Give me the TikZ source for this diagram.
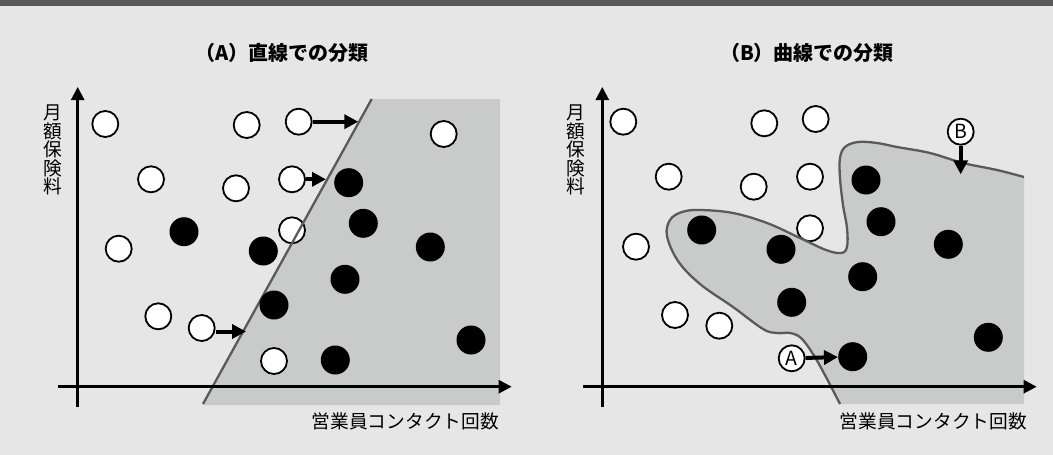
\documentclass[tikz,border=0pt]{standalone}
\usepackage{fontspec}
\newfontfamily\jp{Noto Sans CJK JP}
\usetikzlibrary{arrows.meta}
\definecolor{bggray}{HTML}{E6E6E6}
\definecolor{areagray}{HTML}{C9CACA}
\definecolor{bline}{HTML}{5A5A5A}
\begin{document}
\begin{tikzpicture}[x=1pt,y=-1pt,
  wc/.style={circle,draw=black,fill=white,line width=1.8pt,minimum size=26pt,inner sep=0pt},
  bc/.style={circle,fill=black,minimum size=29pt,inner sep=0pt},
  axis/.style={line width=2.6pt,-{Triangle[length=13pt,width=13pt]}},
  push/.style={line width=4pt,-{Triangle[length=14pt,width=14pt]}},
  bound/.style={draw=bline,line width=2.3pt},
  lab/.style={font=\jp\fontsize{18.7}{18.5}\selectfont,inner sep=0pt},
  ttl/.style={font=\jp\bfseries\fontsize{20}{20}\selectfont,inner sep=0pt},
  let/.style={font=\jp\fontsize{19.5}{19.5}\selectfont}
]
\useasboundingbox (0,0) rectangle (1053,455);
\fill[bggray] (0,0) rectangle (1053,455);
\fill[bline] (0,0) rectangle (1053,6);

% ---------- titles
\node[ttl] (tA) at (282,53) {（A）直線での分類};
\node[ttl] (tB) at (807,53) {（B）曲線での分類};

% ---------- left panel
\fill[areagray] (371.7,99) -- (500,99) -- (500,405) -- (203,405) -- cycle;

\node[wc] (lw1) at (105.3,124) {};
\node[wc] (lw2) at (246.7,125) {};
\node[wc] (lw3) at (298.7,121.7) {};
\node[wc] (lw4) at (443.7,134) {};
\node[wc] (lw5) at (151,179.3) {};
\node[wc] (lw6) at (236,188.3) {};
\node[wc] (lw7) at (292,179.3) {};
\node[wc] (lw8) at (118.7,248.7) {};
\node[wc] (lw9) at (292,230.3) {};
\node[wc] (lw10) at (158.3,316.3) {};
\node[wc] (lw11) at (201.7,328) {};
\node[wc] (lw12) at (274,361) {};

\draw[bound] (203,404) -- (371.7,99);

\node[bc] (lb1) at (348.7,182.7) {};
\node[bc] (lb2) at (363.3,223.3) {};
\node[bc] (lb3) at (184,231.7) {};
\node[bc] (lb4) at (263.3,251) {};
\node[bc] (lb5) at (430.3,247) {};
\node[bc] (lb6) at (345,279.3) {};
\node[bc] (lb7) at (274,305) {};
\node[bc] (lb8) at (471,340) {};
\node[bc] (lb9) at (335.3,360) {};

\draw[axis] (77.7,407) -- (77.7,87);
\draw[axis] (57.7,386.7) -- (511.7,386.7);

\coordinate (lt1) at (358.3,121.7);
\coordinate (lt2) at (326,179.3);
\coordinate (lt3) at (246,331.5);
\draw[push] (lw3) -- (lt1);
\draw[push] (lw7) -- (lt2);
\draw[push] (lw11.east |- lt3) -- (lt3);

\node[lab,anchor=east] (lx) at (499,421) {営業員コンタクト回数};
\node[lab,align=center] (ly) at (52.5,150) {月\\額\\保\\険\\料};

% ---------- right panel
\fill[areagray] plot[smooth,tension=0.6] coordinates {(840,404) (826,377) (813,354) (801,338) (790,333) (777,333) (763,329) (733,307) (700,284) (678,261) (667,236) (670,220) (682,212) (700,210) (733,213) (767,223) (800,238) (826,250) (841,253) (847,247) (847,228) (843,205) (840,178) (840,158) (845,147) (858,142) (877,143) (897,147) (930,153) (963,163) (997,170) (1024,177)} -- (1024,404) -- cycle;

\node[wc] (rw1) at (623.3,121.7) {};
\node[wc] (rw2) at (764.3,123.3) {};
\node[wc] (rw3) at (815.7,119) {};
\node[wc] (rw4) at (668.7,176.7) {};
\node[wc] (rw5) at (753.7,186.7) {};
\node[wc] (rw6) at (810,176.7) {};
\node[wc] (rw7) at (636,246.7) {};
\node[wc] (rw8) at (810,228.3) {};
\node[wc] (rw9) at (675,315) {};
\node[wc] (rw10) at (719.3,325.7) {};

\draw[bound] plot[smooth,tension=0.6] coordinates {(840,404) (826,377) (813,354) (801,338) (790,333) (777,333) (763,329) (733,307) (700,284) (678,261) (667,236) (670,220) (682,212) (700,210) (733,213) (767,223) (800,238) (826,250) (841,253) (847,247) (847,228) (843,205) (840,178) (840,158) (845,147) (858,142) (877,143) (897,147) (930,153) (963,163) (997,170) (1024,177)};

\node[bc] (rb1) at (866,180) {};
\node[bc] (rb2) at (881,221.7) {};
\node[bc] (rb3) at (701.7,230) {};
\node[bc] (rb4) at (781,249.3) {};
\node[bc] (rb5) at (948.3,244.3) {};
\node[bc] (rb6) at (862.7,276.7) {};
\node[bc] (rb7) at (791.7,302.3) {};
\node[bc] (rb8) at (988.3,337.3) {};
\node[bc] (rb9) at (852.7,356.7) {};

\draw[axis] (602.3,407) -- (602.3,87);
\draw[axis] (582.7,386.7) -- (1036.7,386.7);

\node[wc,let] (mA) at (791.7,358.3) {A};
\node[wc,let] (mB) at (960.7,131.7) {B};
\coordinate (tbB) at (960.7,174.3);
\draw[push] (mA) -- (rb9);
\draw[push] (mB) -- (tbB);

\node[lab,anchor=east] (rx) at (1027,421) {営業員コンタクト回数};
\node[lab,align=center] (ry) at (576,150) {月\\額\\保\\険\\料};
\end{tikzpicture}
\end{document}
